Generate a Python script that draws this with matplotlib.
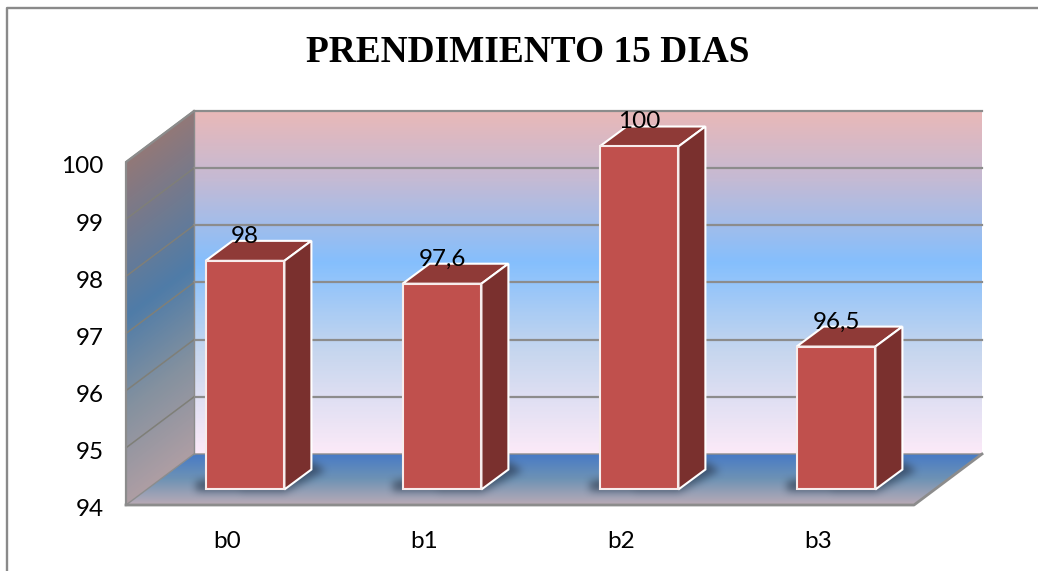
import numpy as np
import matplotlib.pyplot as plt
from matplotlib.colors import LinearSegmentedColormap
from matplotlib.patches import Polygon
from matplotlib.path import Path
from matplotlib.transforms import Affine2D, IdentityTransform

categories = ['b0', 'b1', 'b2', 'b3']
values = [98, 97.6, 100, 96.5]
value_labels = ['98', '97,6', '100', '96,5']
y_ticks = [94, 95, 96, 97, 98, 99, 100]
title = 'PRENDIMIENTO 15 DIAS'

W, H = 1038, 571
plt.rcParams['font.family'] = ['Lato', 'DejaVu Sans']

fig = plt.figure(figsize=(W / 100, H / 100), dpi=100)
fig.patch.set_facecolor('white')
ax = fig.add_axes([126 / W, (H - 505) / H, 788 / W, 343 / H])
ax.patch.set_alpha(0)
for s in ax.spines.values():
    s.set_visible(False)
x_lo, x_hi = -0.5, 3.5
y_lo, y_hi = y_ticks[0], y_ticks[-1]
ax.set_xlim(x_lo, x_hi)
ax.set_ylim(y_lo, y_hi)


def shift(dx, dy):
    # moves a plane back in the fake 3D view, pixels
    return ax.transData + Affine2D().translate(dx, dy)


back = shift(68, 51)
plane = shift(20.5, 15.5)
ident = IdentityTransform()


def px(x, y):
    # image coords (y from top) to display coords
    return (x, H - y)


def put_image(arr, poly, z, **kw):
    im = ax.imshow(arr, extent=(0, W, 0, H), origin='upper', transform=ident, aspect='auto',
                   zorder=z, interpolation='bilinear', **kw)
    im.set_clip_box(fig.bbox)
    im.set_clip_path(Polygon([px(*p) for p in poly], closed=True, transform=ident))
    ax.set_xlim(x_lo, x_hi)
    ax.set_ylim(y_lo, y_hi)


def gradient(poly, stops, func, z):
    gx, gy = np.meshgrid(np.arange(W) + 0.5, np.arange(H) + 0.5)
    t = np.clip(func(gx, gy), 0, 1)
    cmap = LinearSegmentedColormap.from_list('g', stops)
    put_image(t, poly, z, cmap=cmap, vmin=0, vmax=1)


def blur(a, r):
    k = np.ones(2 * r + 1) / (2 * r + 1)
    for _ in range(2):
        a = np.apply_along_axis(lambda m: np.convolve(m, k, mode='same'), 0, a)
        a = np.apply_along_axis(lambda m: np.convolve(m, k, mode='same'), 1, a)
    return a


floor = [(126, 505), (914, 505), (982, 454), (194, 454)]

# back wall
gradient([(194, 111), (982, 111), (982, 454), (194, 454)],
         [(0, '#E9B8B8'), (0.2, '#C4BAD4'), (0.44, '#85BFFD'), (0.7, '#C6D6EE'), (1, '#FCEAF8')],
         lambda x, y: (y - 111) / 343, 1)
# side wall
gradient([(126, 162), (194, 111), (194, 454), (126, 505)],
         [(0, '#927878'), (0.45, '#4F7CA8'), (0.72, '#84919F'), (1, '#AE9EA4')],
         lambda x, y: (y - 162 + (x - 126) * 0.75) / 343, 1)
# floor
gradient(floor, [(0, '#477AC6'), (0.5, '#6F93B4'), (1, '#BBABB6')],
         lambda x, y: (y - 454) / 51, 1)

# gridlines on walls
for v in y_ticks[1:]:
    ax.plot([x_lo, x_hi], [v, v], color='#8C8C8C', lw=1.6, transform=back, zorder=2, clip_on=False)
    ax.plot([126, 194], [H - (505 - (v - 94) * 343 / 6), H - (454 - (v - 94) * 343 / 6)], color='#7F7F78',
            lw=1.1, transform=ident, zorder=2, clip_on=False)
edge = dict(color='#8C8C8C', transform=ident, zorder=3, clip_on=False)
ax.plot(*zip(px(126, 505), px(126, 162), px(194, 111)), lw=1.6, **edge)
ax.plot(*zip(px(126, 505), px(914, 505), px(982, 454)), lw=2, **edge)
ax.plot(*zip(px(126, 505), px(194, 454), px(982, 454)), lw=1.0, **edge)
ax.plot(*zip(px(194, 454), px(194, 111)), lw=1.0, **edge)

# bars
bar_w = 0.2
dx, dy = 27, 20
off = np.array([dx, dy])
gx, gy = np.meshgrid(np.arange(W) + 0.5, H - (np.arange(H) + 0.5))
display_pts = np.column_stack([gx.ravel(), gy.ravel()])
mask = np.zeros((H, W))
for i, v in enumerate(values):
    p0 = plane.transform((i - bar_w, y_lo))
    p1 = plane.transform((i + bar_w, y_lo))
    base = [p0 + [-10, -1], p1 + [0, -3], p1 + off + [14, -1], p1 + off + [0, 8], p0 + [-10, 8]]
    mask += Path(base).contains_points(display_pts).reshape(H, W)
shadow = np.zeros((H, W, 4))
shadow[..., :3] = np.array([0x2A, 0x38, 0x4C]) / 255
shadow[..., 3] = np.clip(blur(np.clip(mask, 0, 1), 4), 0, 1) * 0.65
put_image(shadow, floor, 3)

for i, v in enumerate(values):
    x0, x1 = i - bar_w, i + bar_w
    ax.bar(i, v - y_lo, 2 * bar_w, bottom=y_lo, color='#C0504D', edgecolor='#F7ECEC', linewidth=1.5,
           transform=plane, zorder=6, clip_on=False)
    a = plane.transform((x0, v))
    b = plane.transform((x1, v))
    c = plane.transform((x1, y_lo))
    ax.add_patch(Polygon([a, b, b + off, a + off], closed=True, transform=ident,
                         fc='#8F3A37', ec='white', lw=1.5, zorder=5, clip_on=False))
    ax.add_patch(Polygon([b, c, c + off, b + off], closed=True, transform=ident,
                         fc='#7A302E', ec='white', lw=1.5, zorder=5, clip_on=False))
    ax.annotate(value_labels[i], (i, v), xytext=(20.5, 40), textcoords='offset pixels', ha='center',
                va='center', fontsize=17.5, color='black', zorder=8, annotation_clip=False)

ax.set_xticks(range(len(categories)), categories)
ax.set_yticks(y_ticks)
ax.tick_params(axis='both', length=0, labelsize=17.5, colors='black')
ax.tick_params(axis='x', pad=19)
ax.tick_params(axis='y', pad=16)
for lab in ax.get_xticklabels():
    lab.set_transform(lab.get_transform() + Affine2D().translate(3, 0))
for lab in ax.get_yticklabels():
    lab.set_transform(lab.get_transform() + Affine2D().translate(0, -3))

fig.text(528 / W, 1 - 53 / H, title, ha='center', va='center', fontsize=26.9, fontweight='bold',
         family='Liberation Serif', color='black')
# outer frame: left and top only, runs off the picture
fig.add_artist(plt.Line2D([6.5 / W, 6.5 / W, 1], [0, 1 - 7.5 / H, 1 - 7.5 / H],
                          color='#8A8A8A', lw=1.7))

fig.savefig('out.png', dpi=100)
